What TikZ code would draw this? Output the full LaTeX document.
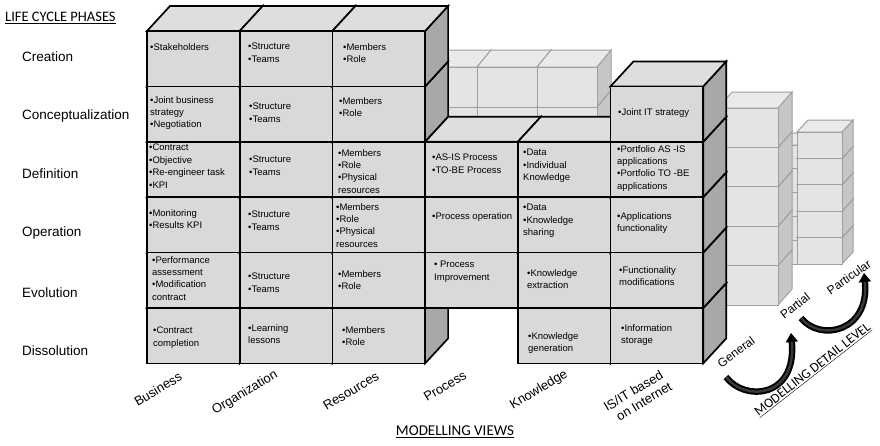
\documentclass[tikz,border=0pt]{standalone}
\usepackage{fontspec}
\setmainfont{Liberation Sans}
\newfontfamily\headfont{Carlito}
\usetikzlibrary{arrows.meta}
\usepackage{xcolor}

\definecolor{cubefront}{HTML}{D9D9D9}
\definecolor{cubetop}{HTML}{DEDEDE}
\definecolor{cubeside}{HTML}{A8A8A8}
\definecolor{backfront}{HTML}{E4E4E4}
\definecolor{backtop}{HTML}{EAEAEA}
\definecolor{backside}{HTML}{C6C6C6}
\definecolor{backline}{HTML}{A0A0A0}

\tikzset{
    frontface/.style={fill=cubefront, draw=black, line width=1.7pt},
    topface/.style={fill=cubetop, draw=black, line width=1.7pt},
    sideface/.style={fill=cubeside, draw=black, line width=1.7pt},
    backfrontface/.style={fill=backfront, draw=backline, line width=1pt},
    backtopface/.style={fill=backtop, draw=backline, line width=1pt},
    backsideface/.style={fill=backside, draw=backline, line width=1pt},
    celltext/.style={anchor=north west, inner sep=0pt, align=left, font=\fontsize{9.5}{12.4}\selectfont},
    phase/.style={anchor=west, inner sep=0pt, font=\fontsize{13.5}{16}\selectfont},
    view/.style={rotate=31, inner sep=0pt, align=center, font=\fontsize{13}{14.5}\selectfont},
    level/.style={inner sep=0pt, font=\fontsize{12}{14}\selectfont},
    heading/.style={inner sep=0pt, font=\headfont\fontsize{14.5}{17}\selectfont},
    levelarrow/.style={draw=black, line width=2pt, double=gray!45!black, double distance=2.4pt, -{Triangle[length=9pt,width=12pt]}}
}

\begin{document}
\begin{tikzpicture}[x=1pt,y=-1pt]

    \fill [white] (0,0) rectangle (880,445);
    \useasboundingbox (0,0) rectangle (880,445);

    %detail level columns at the back
    \foreach \r in {4,3,2,1,0}{
        \pgfmathsetmacro\yt{145+23.8*\r}
        \draw [backsideface] (797,\yt) -- ++(11,-12) -- ++(0,23.8) -- ++(-11,12) -- cycle;
        \draw [backtopface] (750,\yt) -- ++(11,-12) -- ++(47,0) -- ++(-11,12) -- cycle;
        \draw [backfrontface] (750,\yt) rectangle ++(47,23.8);
    }
    \foreach \r in {4,3,2,1,0}{
        \pgfmathsetmacro\yt{132+26.4*\r}
        \draw [backsideface] (842,\yt) -- ++(11,-12) -- ++(0,26.4) -- ++(-11,12) -- cycle;
        \draw [backtopface] (797,\yt) -- ++(11,-12) -- ++(45,0) -- ++(-11,12) -- cycle;
        \draw [backfrontface] (797,\yt) rectangle ++(45,26.4);
    }
    \foreach \c/\r in {0/1,0/0,1/1,1/0,2/1,2/0}{
        \pgfmathsetmacro\xl{417+60*\c}
        \pgfmathsetmacro\yt{67+40*\r}
        \draw [backsideface] (\xl+60,\yt) -- ++(14,-17) -- ++(0,40) -- ++(-14,17) -- cycle;
        \draw [backtopface] (\xl,\yt) -- ++(14,-17) -- ++(60,0) -- ++(-14,17) -- cycle;
        \draw [backfrontface] (\xl,\yt) rectangle ++(60,40);
    }
    \foreach \r in {4,3,2,1,0}{
        \pgfmathsetmacro\yt{108+39.4*\r}
        \draw [backsideface] (778,\yt) -- ++(14,-16) -- ++(0,39.4) -- ++(-14,16) -- cycle;
        \draw [backtopface] (718,\yt) -- ++(14,-16) -- ++(60,0) -- ++(-14,16) -- cycle;
        \draw [backfrontface] (718,\yt) rectangle ++(60,39.4);
    }

    %main cubes
    \foreach \c/\r in {0/5,0/4,0/3,0/2,0/1,0/0,1/5,1/4,1/3,1/2,1/1,1/0,2/5,2/4,2/3,2/2,2/1,2/0,3/4,3/3,3/2,4/5,4/4,4/3,4/2,5/5,5/4,5/3,5/2,5/1}{
        \pgfmathsetmacro\xl{147+92.7*\c}
        \pgfmathsetmacro\yt{31+55.4*\r}
        \draw [sideface] (\xl+92.7,\yt) -- ++(23,-25) -- ++(0,55.4) -- ++(-23,25) -- cycle;
        \draw [topface] (\xl,\yt) -- ++(23,-25) -- ++(92.7,0) -- ++(-23,25) -- cycle;
        \draw [frontface] (\xl,\yt) rectangle ++(92.7,55.4);
    }

    %business
    \node [celltext] (bus-cre) at (150,43) {•Stakeholders};
    \node [celltext] (bus-con) at (150,96) {•Joint business\\strategy\\•Negotiation};
    \node [celltext] (bus-def) at (149,144) {•Contract\\•Objective\\•Re-engineer task\\•KPI};
    \node [celltext] (bus-ope) at (149,209) {•Monitoring\\•Results KPI};
    \node [celltext] (bus-evo) at (152,256) {•Performance\\assessment\\•Modification\\contract};
    \node [celltext] (bus-dis) at (153,327) {•Contract\\completion};

    %organization
    \node [celltext] (org-cre) at (248,43) {•Structure\\•Teams};
    \node [celltext] (org-con) at (249,103) {•Structure\\•Teams};
    \node [celltext] (org-def) at (249,156) {•Structure\\•Teams};
    \node [celltext] (org-ope) at (248,211) {•Structure\\•Teams};
    \node [celltext] (org-evo) at (248,273) {•Structure\\•Teams};
    \node [celltext] (org-dis) at (248,324) {•Learning\\lessons};

    %resources
    \node [celltext] (res-cre) at (343,43) {•Members\\•Role};
    \node [celltext] (res-con) at (339,97) {•Members\\•Role};
    \node [celltext] (res-def) at (338,149) {•Members\\•Role\\•Physical\\resources};
    \node [celltext] (res-ope) at (336,203) {•Members\\•Role\\•Physical\\resources};
    \node [celltext] (res-evo) at (338,270) {•Members\\•Role};
    \node [celltext] (res-dis) at (342,326) {•Members\\•Role};

    %process
    \node [celltext] (pro-def) at (432,154) {•AS-IS Process\\•TO-BE Process};
    \node [celltext] (pro-ope) at (432,212) {•Process operation};
    \node [celltext] (pro-evo) at (434,261) {• Process\\Improvement};

    %knowledge
    \node [celltext] (kno-def) at (523,149) {•Data\\•Individual\\Knowledge};
    \node [celltext] (kno-ope) at (523,204) {•Data\\•Knowledge\\sharing};
    \node [celltext] (kno-evo) at (527,269) {•Knowledge\\extraction};
    \node [celltext] (kno-dis) at (528,332) {•Knowledge\\generation};

    %is/it
    \node [celltext] (ist-con) at (618,108) {•Joint IT strategy};
    \node [celltext] (ist-def) at (617,145) {•Portfolio AS -IS\\applications\\•Portfolio TO -BE\\applications};
    \node [celltext] (ist-ope) at (617,212) {•Applications\\functionality};
    \node [celltext] (ist-evo) at (619,266) {•Functionality\\modifications};
    \node [celltext] (ist-dis) at (621,324) {•Information\\storage};

    %phases
    \node [heading, anchor=west] (phases) at (5,18) {\underline{LIFE CYCLE PHASES}};
    \node [phase] (creation) at (22,57) {Creation};
    \node [phase] (conceptualization) at (22,116) {Conceptualization};
    \node [phase] (definition) at (22,174) {Definition};
    \node [phase] (operation) at (22,233) {Operation};
    \node [phase] (evolution) at (22,293) {Evolution};
    \node [phase] (dissolution) at (22,351) {Dissolution};

    %views
    \node [view] (business) at (158,389) {Business};
    \node [view] (organization) at (245,393) {Organization};
    \node [view] (resources) at (351,391) {Resources};
    \node [view] (process) at (445,386) {Process};
    \node [view] (knowledge) at (539,390) {Knowledge};
    \node [view] (isit) at (637,397) {IS/IT based\\\ \ on Internet};
    \node [heading, font=\headfont\fontsize{15}{17}\selectfont] (views) at (455,432) {\underline{MODELLING VIEWS}};

    %detail level
    \node [level, rotate=36] (general) at (736,352) {General};
    \node [level, rotate=38] (partial) at (795,306) {Partial};
    \node [level, rotate=35] (particular) at (849,277) {Particular};
    \node [heading, rotate=38, font=\headfont\fontsize{13.5}{16}\selectfont] (detail) at (813,370) {\underline{MODELLING DETAIL LEVEL}};

    \coordinate (gen-tail) at (726,377);
    \coordinate (gen-head) at (791,333);
    \draw [levelarrow] (gen-tail) .. controls (745,402) and (797,398) .. (gen-head);
    \coordinate (par-tail) at (801,318);
    \coordinate (par-head) at (864,273);
    \draw [levelarrow] (par-tail) .. controls (820,342) and (870,332) .. (par-head);

\end{tikzpicture}
\end{document}
